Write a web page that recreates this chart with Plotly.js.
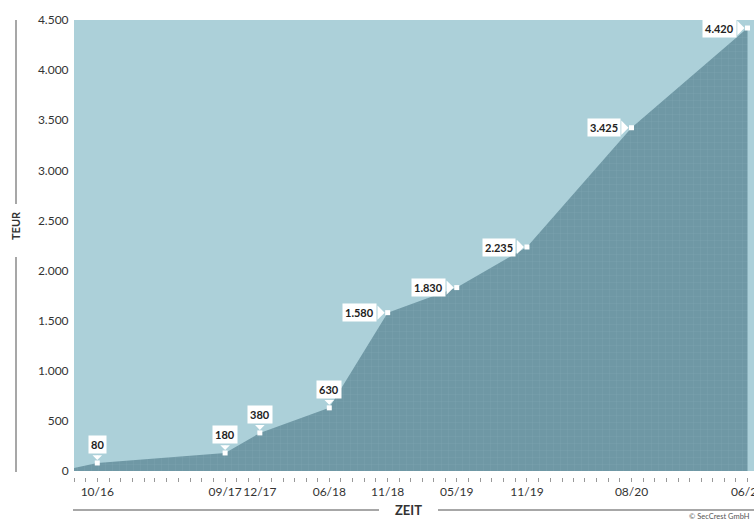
<!DOCTYPE html>
<html>
<head>
<meta charset="utf-8">
<script src="https://cdn.plot.ly/plotly-3.0.1.min.js"></script>
<style>html,body{margin:0;padding:0;background:#fff;}#chart{width:754px;height:522px;}</style>
</head>
<body>
<div id="chart"></div>
<script>
// ---- data ----
const startDate = '2016-08-01';
const startValue = 30;
const dates = ['2016-10-01','2017-09-01','2017-12-01','2018-06-01','2018-11-01','2019-05-01','2019-11-01','2020-08-01','2021-06-01'];
const values = [80,180,380,630,1580,1830,2235,3425,4420];
const labelSide = ['top','top','top','top','left','left','left','left','left'];
const tickDates = ['2016-10-01','2017-09-01','2017-12-01','2018-06-01','2018-11-01','2019-05-01','2019-11-01','2020-08-01','2021-06-01'];
const tickLabels = ['10/16','09/17','12/17','06/18','11/18','05/19','11/19','08/20','06/21'];
const yTicks = [0,500,1000,1500,2000,2500,3000,3500,4000,4500];

const W = 754, H = 522;
const L = 74, R = 754, T = 20, B = 477;   // plot area in px (x axis sits at B)
const px2x = p => (p - L) / (R - L);
const px2y = p => (B - p) / (B - T);
const fmt = v => String(v).replace(/\B(?=(\d{3})+(?!\d))/g, '.');

// monthly minor ticks
const tv = [], tt = [];
{
  let d = new Date(Date.UTC(2016, 7, 1));
  const end = new Date(Date.UTC(2021, 6, 1));
  while (d <= end) {
    const s = d.toISOString().slice(0,10);
    tv.push(s);
    const i = tickDates.indexOf(s);
    tt.push(i >= 0 ? tickLabels[i] : '');
    d = new Date(Date.UTC(d.getUTCFullYear(), d.getUTCMonth()+1, 1));
  }
}

const font = 'Lato, "Open Sans", sans-serif';
const light = '#acd0d9', dark = '#6f98a5';

const traces = [
  {
    x: [startDate].concat(dates), y: [startValue].concat(values),
    type: 'scatter', mode: 'lines', fill: 'tozeroy',
    fillcolor: dark, line: {color: dark, width: 0},
    fillpattern: {shape: '+', size: 7, solidity: 0.1, fgcolor: 'rgba(160,195,205,0.3)', bgcolor: dark},
    hoverinfo: 'skip'
  },
  {
    x: dates, y: values, type: 'scatter', mode: 'markers',
    marker: {symbol: 'square', size: 5, color: '#ffffff'},
    hoverinfo: 'skip'
  }
];

const annotations = [];
dates.forEach((d, i) => {
  const lab = {x: d, y: values[i], xref: 'x', yref: 'y', text: '<b>' + fmt(values[i]) + '</b>',
    showarrow: false, bgcolor: '#ffffff', borderpad: 2, font: {family: font, size: 11, color: '#222'}};
  const ptr = {x: d, y: values[i], xref: 'x', yref: 'y', text: '', showarrow: true,
    arrowhead: 1, arrowwidth: 1, arrowcolor: '#ffffff', standoff: 3};
  if (labelSide[i] === 'top') {
    annotations.push(Object.assign(lab, {xanchor: 'center', yanchor: 'bottom', yshift: 9}));
    annotations.push(Object.assign(ptr, {ax: 0, ay: -9, arrowsize: 1.6}));
  } else {
    annotations.push(Object.assign(lab, {xanchor: 'right', yanchor: 'middle', xshift: -11}));
    annotations.push(Object.assign(ptr, {ax: -11, ay: 0, arrowsize: 2.4}));
  }
});
annotations.push({xref: 'paper', yref: 'paper', x: px2x(16), y: px2y(226), xanchor: 'center', yanchor: 'middle',
  text: '<b>TEUR</b>', textangle: -90, showarrow: false, font: {family: font, size: 11, color: '#333'}});
annotations.push({xref: 'paper', yref: 'paper', x: px2x(408), y: px2y(510), xanchor: 'center', yanchor: 'middle',
  text: '<b>ZEIT</b>', showarrow: false, font: {family: font, size: 13, color: '#333'}});
annotations.push({xref: 'paper', yref: 'paper', x: px2x(752), y: px2y(516), xanchor: 'right', yanchor: 'middle',
  text: '© SecCrest GmbH', showarrow: false, font: {family: font, size: 7.5, color: '#555'}});

const lineStyle = {color: '#8a8a8a', width: 1.5};
const shapes = [
  {type: 'line', xref: 'paper', yref: 'paper', x0: px2x(16), x1: px2x(16), y0: px2y(20), y1: px2y(204), line: lineStyle},
  {type: 'line', xref: 'paper', yref: 'paper', x0: px2x(16), x1: px2x(16), y0: px2y(257), y1: px2y(472), line: lineStyle},
  {type: 'line', xref: 'paper', yref: 'paper', x0: px2x(73), x1: px2x(379), y0: px2y(510), y1: px2y(510), line: lineStyle},
  {type: 'line', xref: 'paper', yref: 'paper', x0: px2x(438), x1: px2x(760), y0: px2y(510), y1: px2y(510), line: lineStyle}
];

const layout = {
  width: W, height: H,
  margin: {l: L, r: W - R, t: T, b: H - B, pad: 0},
  paper_bgcolor: '#ffffff', plot_bgcolor: light,
  separators: ',.',
  showlegend: false,
  xaxis: {
    type: 'date', range: ['2016-08-01', '2021-06-18'],
    anchor: 'free', position: 0,
    tickmode: 'array', tickvals: tv, ticktext: tt, tickangle: 0,
    ticks: 'outside', ticklen: 4, tickwidth: 1, tickcolor: '#999',
    showgrid: false, zeroline: false, showline: false,
    ticklabeloverflow: 'allow',
    tickfont: {family: font, size: 12, color: '#333'}
  },
  yaxis: {
    domain: [(B - 471) / (B - T), 1],
    range: [0, 4500], tickmode: 'array', tickvals: yTicks,
    tickformat: ',d', ticksuffix: ' –',
    ticks: 'outside', ticklen: 2, tickcolor: 'rgba(0,0,0,0)',
    showgrid: false, zeroline: false, showline: false,
    tickfont: {family: font, size: 12, color: '#333'}
  },
  annotations: annotations,
  shapes: shapes
};

Plotly.newPlot('chart', traces, layout, {displayModeBar: false, staticPlot: true});
</script>
</body>
</html>
